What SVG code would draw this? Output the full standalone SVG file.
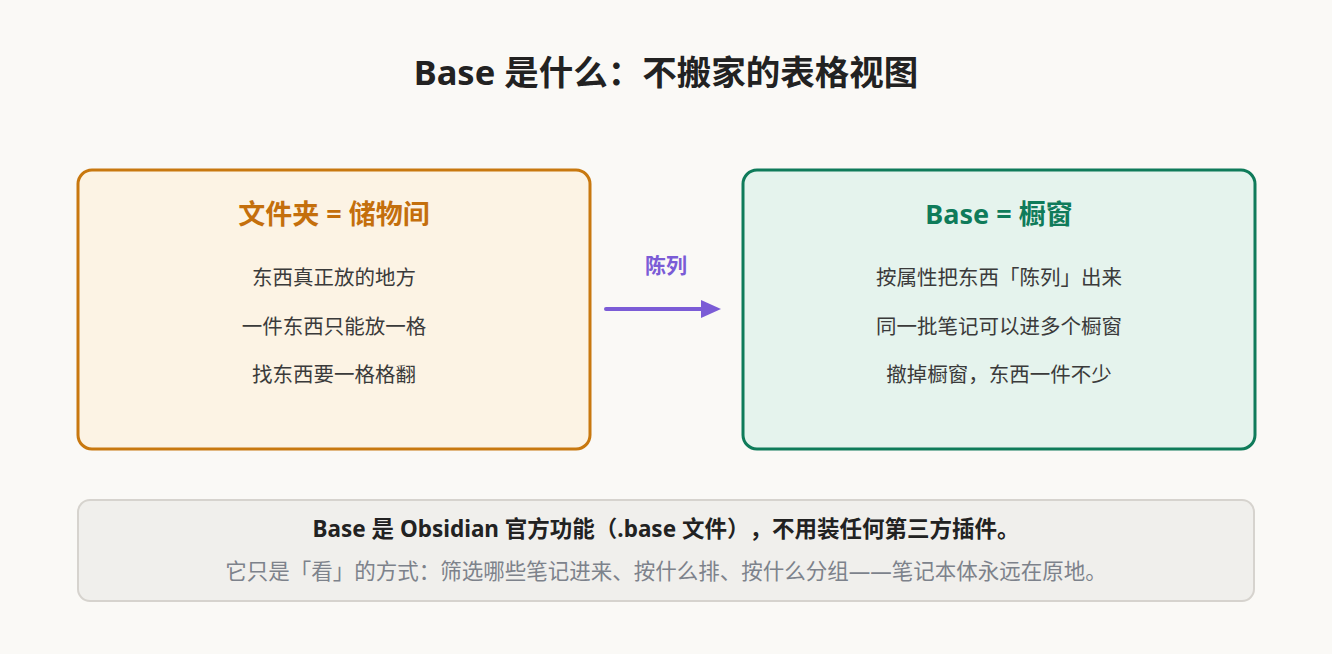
<svg xmlns="http://www.w3.org/2000/svg" width="1332" height="654" viewBox="0 0 1332 654">
<defs>
<style>
text{font-family:"Noto Sans","Noto Sans CJK SC",sans-serif;text-anchor:middle;text-spacing-trim:space-all}
.title{font-size:34.5px;font-weight:700;fill:#222}
.h{font-size:27px;font-weight:700}
.b{font-size:20.5px;fill:#3a3a3a}
.lab{font-size:21px;font-weight:700;fill:#7b5cd6}
.n1{font-size:22.5px;font-weight:700;fill:#222}
.n2{font-size:21.5px;fill:#7d828b}
</style>
<marker id="ah" markerWidth="5" markerHeight="4.5" refX="0.5" refY="2.25" orient="auto" markerUnits="strokeWidth">
<path d="M0,0 L5,2.25 L0,4.5 Z" fill="#7b5cd6"/>
</marker>
</defs>
<rect width="1332" height="654" fill="#faf9f6"/>
<text class="title" x="666" y="85">Base 是什么：不搬家的表格视图</text>
<g id="folder">
<rect x="78" y="170" width="512" height="279" rx="14" fill="#fcf3e4" stroke="#c8780f" stroke-width="3"/>
<text class="h" x="334" y="224" fill="#c46f0c">文件夹 = 储物间</text>
<text class="b" x="334" y="285">东西真正放的地方</text>
<text class="b" x="334" y="334">一件东西只能放一格</text>
<text class="b" x="334" y="382">找东西要一格格翻</text>
</g>
<g id="base">
<rect x="743" y="170" width="512" height="279" rx="14" fill="#e5f3ed" stroke="#0f7b5a" stroke-width="3"/>
<text class="h" x="999" y="224" fill="#0f7b5a">Base = 橱窗</text>
<text class="b" x="999" y="285">按属性把东西「陈列」出来</text>
<text class="b" x="999" y="334">同一批笔记可以进多个橱窗</text>
<text class="b" x="999" y="382">撤掉橱窗，东西一件不少</text>
</g>
<g id="connectors">
<line x1="606" y1="309" x2="703" y2="309" stroke="#7b5cd6" stroke-width="4" stroke-linecap="round" marker-end="url(#ah)"/>
<text class="lab" x="666" y="273">陈列</text>
</g>
<g id="note">
<rect x="78" y="500" width="1176" height="101" rx="12" fill="#f0efec" stroke="#d6d3ce" stroke-width="2"/>
<text class="n1" x="666" y="537">Base 是 Obsidian 官方功能（.base 文件），不用装任何第三方插件。</text>
<text class="n2" x="666" y="579">它只是「看」的方式：筛选哪些笔记进来、按什么排、按什么分组——笔记本体永远在原地。</text>
</g>
</svg>
